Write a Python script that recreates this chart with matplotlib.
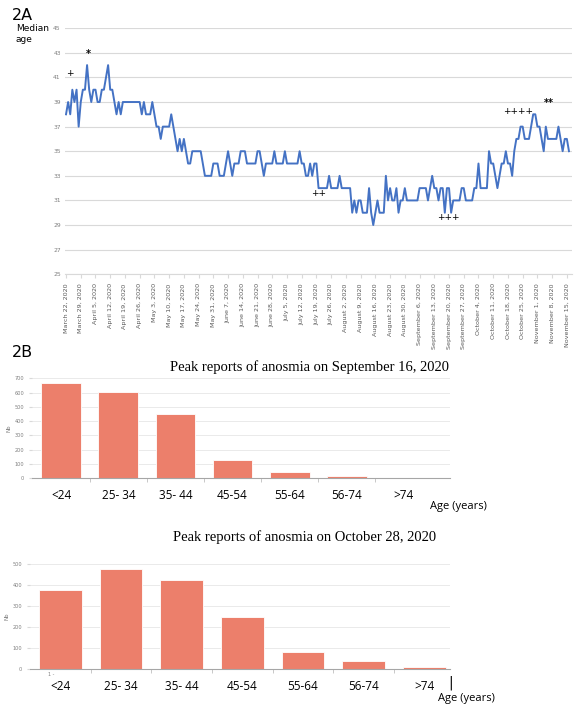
import matplotlib
matplotlib.use("Agg")
import matplotlib.pyplot as plt
import numpy as np
import pandas as pd

# daily median age, March 22 2020 onward
median_age = [
    38, 39, 38, 40, 39, 40, 37, 39, 40, 40, 42, 40, 39, 40, 40, 39, 39, 40, 40, 41,
    42, 40, 40, 39, 38, 39, 38, 39, 39, 39, 39, 39, 39, 39, 39, 39, 38, 39, 38, 38,
    38, 39, 38, 37, 37, 36, 37, 37, 37, 37, 38, 37, 36, 35, 36, 35, 36, 35, 34, 34,
    35, 35, 35, 35, 35, 34, 33, 33, 33, 33, 34, 34, 34, 33, 33, 33, 34, 35, 34, 33,
    34, 34, 34, 35, 35, 35, 34, 34, 34, 34, 34, 35, 35, 34, 33, 34, 34, 34, 34, 35,
    34, 34, 34, 34, 35, 34, 34, 34, 34, 34, 34, 35, 34, 34, 33, 33, 34, 33, 34, 34,
    32, 32, 32, 32, 32, 33, 32, 32, 32, 32, 33, 32, 32, 32, 32, 32, 30, 31, 30, 31,
    31, 30, 30, 30, 32, 30, 29, 30, 31, 30, 30, 30, 33, 31, 32, 31, 31, 32, 30, 31,
    31, 32, 31, 31, 31, 31, 31, 31, 32, 32, 32, 32, 31, 32, 33, 32, 32, 31, 32, 32,
    30, 32, 32, 30, 31, 31, 31, 31, 32, 32, 31, 31, 31, 31, 32, 32, 34, 32, 32, 32,
    32, 35, 34, 34, 33, 32, 33, 34, 34, 35, 34, 34, 33, 35, 36, 36, 37, 37, 36, 36,
    36, 37, 38, 38, 37, 37, 36, 35, 37, 36, 36, 36, 36, 36, 37, 36, 35, 36, 36, 35,
]
start_date = "2020-03-22"
n_weeks = 35

# markers written over the curve: (label, day index, median age)
marks = [("+", 2, 41.3), ("*", 10.5, 42.9), ("++", 120, 31.6),
         ("+++", 181.5, 29.6), ("++++", 215, 38.2), ("**", 229.5, 38.9)]

age_groups = ["<24", "25- 34", "35- 44", "45-54", "55-64", "56-74", ">74"]
sept16 = [665, 605, 450, 130, 42, 15, 0]
oct28 = [375, 478, 422, 248, 82, 40, 10]

blue = "#4472C4"
salmon = "#EC7F6B"
grid = "#D9D9D9"
tick_grey = "#7F7F7F"

fig = plt.figure(figsize=(5.88, 7.05), dpi=100)

# ---- 2A: median age line ----
ax = fig.add_axes([0.1105, 0.611, 0.8625, 0.349])
days = np.arange(len(median_age))
ax.plot(days, median_age, color=blue, lw=1.4)
ax.set_ylim(25, 45)
ax.set_yticks(np.arange(25, 46, 2))
ax.set_xlim(-0.5, 240.5)
tick_dates = pd.date_range(start_date, periods=n_weeks, freq="7D")
ax.set_xticks(np.arange(n_weeks) * 7)
ax.set_xticklabels([f"{d:%B} {d.day}, {d.year}" for d in tick_dates], rotation=90)
ax.tick_params(axis="x", labelsize=4.6, colors="#595959", length=3, color=grid)
ax.tick_params(axis="y", labelsize=4.3, colors=tick_grey, length=0, pad=3)
ax.grid(axis="y", color=grid, lw=0.8)
ax.set_axisbelow(True)
for s in ["top", "right", "left"]:
    ax.spines[s].set_visible(False)
ax.spines["bottom"].set_color(grid)
for label, d, v in marks:
    fs = 7 if "*" in label else 6.5
    ax.text(d, v, label, ha="center", va="center", fontsize=fs, color="black",
            fontweight="bold" if "*" in label else "normal")

fig.text(12 / 588, 1 - 15 / 705, "2A", fontsize=11.5, va="center")
fig.text(16 / 588, 1 - 34 / 705, "Median\nage", fontsize=6.5, va="center", linespacing=1.4)


def bar_panel(rect, values, ymax, xlim, title, title_xy):
    bx = fig.add_axes(rect)
    pos = np.arange(len(age_groups))
    bx.bar(pos, values, width=0.7, color=salmon, edgecolor="white", lw=0.6)
    bx.set_ylim(0, ymax)
    bx.set_yticks(np.arange(0, ymax + 1, 100))
    bx.set_xlim(*xlim)
    bx.set_xticks(pos)
    bx.set_xticklabels(age_groups, fontsize=8.5, fontfamily="Open Sans")
    bx.set_xticks(pos[:-1] + 0.5, minor=True)
    bx.tick_params(axis="x", which="major", length=0, pad=8)
    bx.tick_params(axis="x", which="minor", length=3, color="#BFBFBF")
    bx.tick_params(axis="y", labelsize=3.6, colors=tick_grey, length=2, color=grid)
    bx.set_ylabel("Nb", fontsize=4, color=tick_grey, labelpad=2)
    bx.grid(axis="y", color="#E6E6E6", lw=0.6)
    bx.set_axisbelow(True)
    for s in ["top", "right", "left"]:
        bx.spines[s].set_visible(False)
    bx.spines["bottom"].set_color("#A6A6A6")
    fig.text(title_xy[0], title_xy[1], title, fontsize=10.5, fontfamily="Liberation Serif",
             ha="center", va="center")
    return bx


fig.text(12 / 588, 1 - 352 / 705, "2B", fontsize=11.5, va="center")
bar_panel([0.054, 0.3215, 0.711, 0.142], sept16, 700, (-0.52, 6.81),
          "Peak reports of anosmia on September 16, 2020", (310 / 588, 1 - 367 / 705))
fig.text(430 / 588, 1 - 507 / 705, "Age (years)", fontsize=8, fontfamily="Open Sans", va="center")

bar_panel([0.051, 0.0506, 0.714, 0.1494], oct28, 500, (-0.50, 6.42),
          "Peak reports of anosmia on October 28, 2020", (305 / 588, 1 - 537 / 705))
fig.text(451 / 588, 1 - 683 / 705, "|", fontsize=10, ha="center", va="center")
fig.text(438 / 588, 1 - 698 / 705, "Age (years)", fontsize=8, fontfamily="Open Sans", va="center")
fig.text(48 / 588, 1 - 675 / 705, "1 -", fontsize=3.5, color=tick_grey, va="center")

fig.savefig("out.png", dpi=100)
